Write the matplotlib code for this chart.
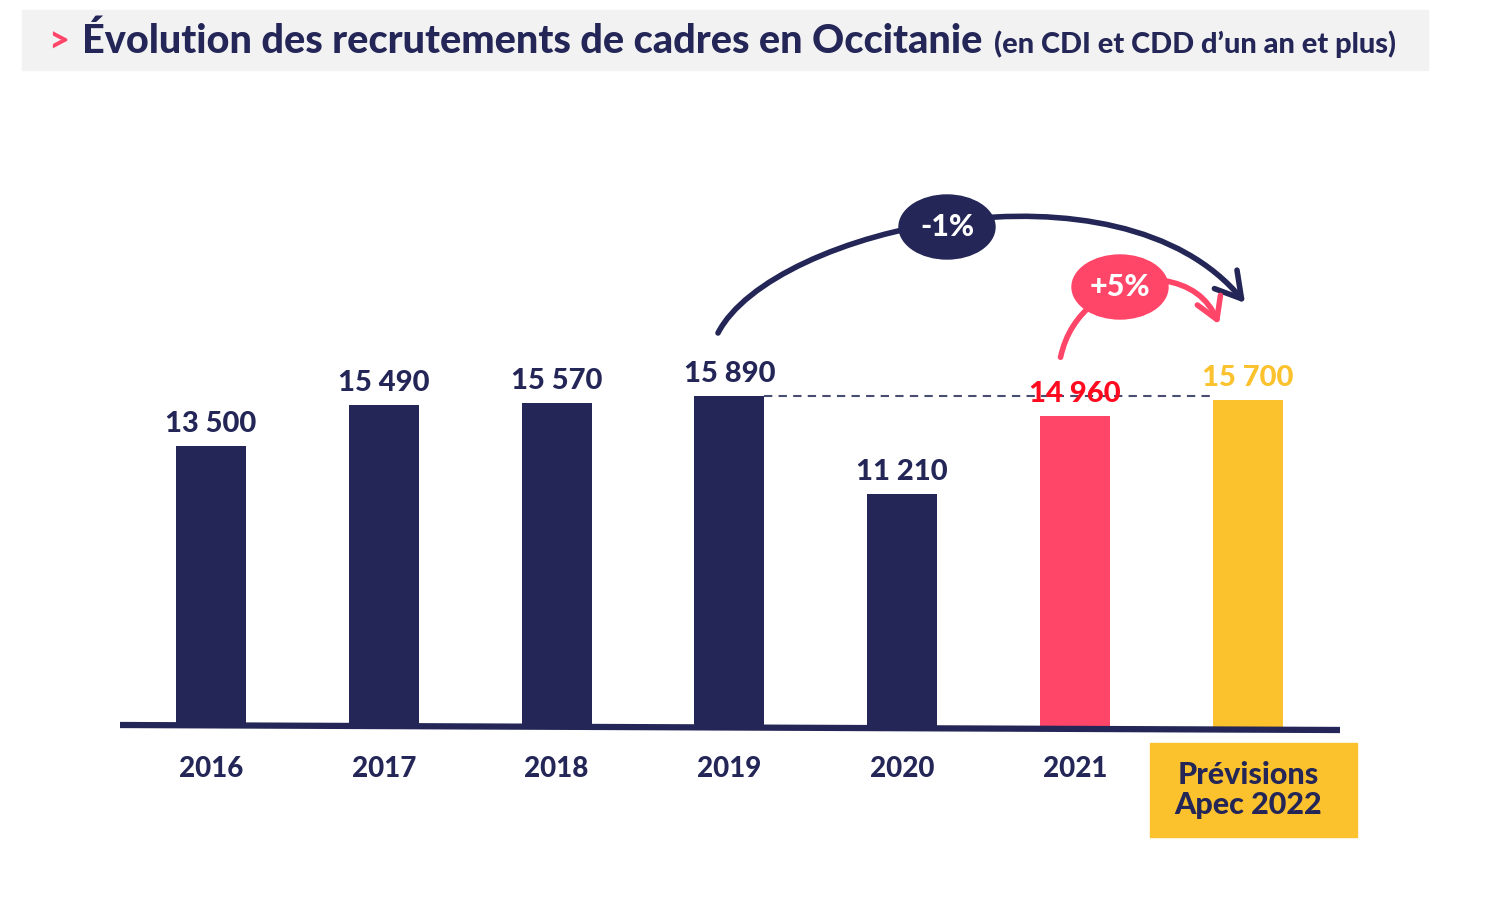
import matplotlib
matplotlib.use("Agg")
import matplotlib.pyplot as plt
from matplotlib.patches import Rectangle, Ellipse, FancyArrowPatch
from matplotlib.path import Path

years = ["2016", "2017", "2018", "2019", "2020", "2021", "Prévisions\nApec 2022"]
values = [13500, 15490, 15570, 15890, 11210, 14960, 15700]
value_labels = ["13 500", "15 490", "15 570", "15 890", "11 210", "14 960", "15 700"]
title = "Évolution des recrutements de cadres en Occitanie"
subtitle = "(en CDI et CDD d\u2019un an et plus)"
change_all = "-1%"
change_last = "+5%"

NAVY = "#232656"
PINK = "#FF4669"
YELLOW = "#FBC22E"
RED = "#FF0A1E"
bar_colors = [NAVY, NAVY, NAVY, NAVY, NAVY, PINK, YELLOW]
label_colors = [NAVY, NAVY, NAVY, NAVY, NAVY, RED, YELLOW]

plt.rcParams['font.family'] = ['Lato', 'DejaVu Sans']
FW = "black"

W, H = 1498, 902
fig = plt.figure(figsize=(W / 100, H / 100), dpi=100)
ax = fig.add_axes([0, 0, 1, 1])
ax.axis("off")

SX = 172.8
SY = 0.0208
X0 = 211
Y0 = 727
ax.set_xlim(-X0 / SX, (W - X0) / SX)
ax.set_ylim(-(H - Y0) / SY, Y0 / SY)

def px(x, y):
    return ((x - X0) / SX, (Y0 - y) / SY)

# title band
fig.patches.append(Rectangle((22 / W, 1 - 70 / H), (1428 - 22) / W, 60 / H,
                             transform=fig.transFigure, color="#F2F2F2", zorder=0))
fig.text(48 / W, 1 - 42 / H, ">", color=PINK, fontsize=26, fontweight=FW, va="center")
t = fig.text(82 / W, 1 - 41 / H, title, color=NAVY, fontsize=28.5, fontweight=FW, va="center")
fig.canvas.draw()
bb = t.get_window_extent()
fig.text(bb.x1 / W + 12 / W, 1 - 44 / H, subtitle, color=NAVY, fontsize=20.8,
         fontweight=FW, va="center")

xs = list(range(len(values)))
bw = 70 / SX
ax.bar(xs, values, width=bw, color=bar_colors, zorder=2)

# baseline
ax.plot([px(120, 0)[0], px(1340, 0)[0]], [0 + 2 / SY, 0 - 3 / SY], color=NAVY, lw=4.5,
        solid_capstyle="butt", zorder=3)

# value labels
for i, (v, lab, c) in enumerate(zip(values, value_labels, label_colors)):
    ax.text(i, v + 9 / SY, lab, ha="center", va="bottom", color=c, fontsize=21,
            fontweight=FW, zorder=4)

# year labels
for i, y in enumerate(years[:-1]):
    ax.text(i, -42 / SY, y, ha="center", va="center", color=NAVY, fontsize=20,
            fontweight=FW)
bx0, by0 = px(1150, 837)
bx1, by1 = px(1357, 743)
ax.add_patch(Rectangle((bx0, by0), bx1 - bx0, by1 - by0, color=YELLOW, zorder=1))
ax.text(6, (by0 + by1) / 2, years[-1], ha="center", va="center", color=NAVY,
        fontsize=22, fontweight=FW, linespacing=1.1)

# dashed reference line at 2019 level
ax.plot([3 + bw / 2, 6 - bw / 2], [values[3], values[3]], ls=(0, (4, 3)), color="#4A4D72",
        lw=1.5, zorder=1)

# big arrow -1%
big_path = Path([px(718, 333), px(772, 228), px(1120, 150), px(1245, 303)],
                [Path.MOVETO, Path.CURVE4, Path.CURVE4, Path.CURVE4])
a1 = FancyArrowPatch(path=big_path, arrowstyle="->,head_length=12,head_width=7",
                     color=NAVY, lw=4, mutation_scale=1.5, zorder=3)
ax.add_patch(a1)
ex, ey = px(947, 227)
ax.add_patch(Ellipse((ex, ey), 96 / SX, 64 / SY, color=NAVY, zorder=5))
ax.text(ex, ey, change_all, ha="center", va="center", color="white", fontsize=22,
        fontweight=FW, zorder=6)

# small arrow +5%
a2 = FancyArrowPatch(px(1060, 360), px(1098, 300), connectionstyle="arc3,rad=-0.2",
                     arrowstyle="-", color=PINK, lw=4, zorder=3)
ax.add_patch(a2)
a3 = FancyArrowPatch(px(1160, 280), px(1220, 327), connectionstyle="arc3,rad=-0.3",
                     arrowstyle="->,head_length=10,head_width=6", color=PINK, lw=4,
                     mutation_scale=1.5, zorder=3)
ax.add_patch(a3)
ex2, ey2 = px(1120, 287)
ax.add_patch(Ellipse((ex2, ey2), 96 / SX, 64 / SY, color=PINK, zorder=5))
ax.text(ex2, ey2, change_last, ha="center", va="center", color="white", fontsize=22,
        fontweight=FW, zorder=6)

fig.savefig("out.png", dpi=100)
